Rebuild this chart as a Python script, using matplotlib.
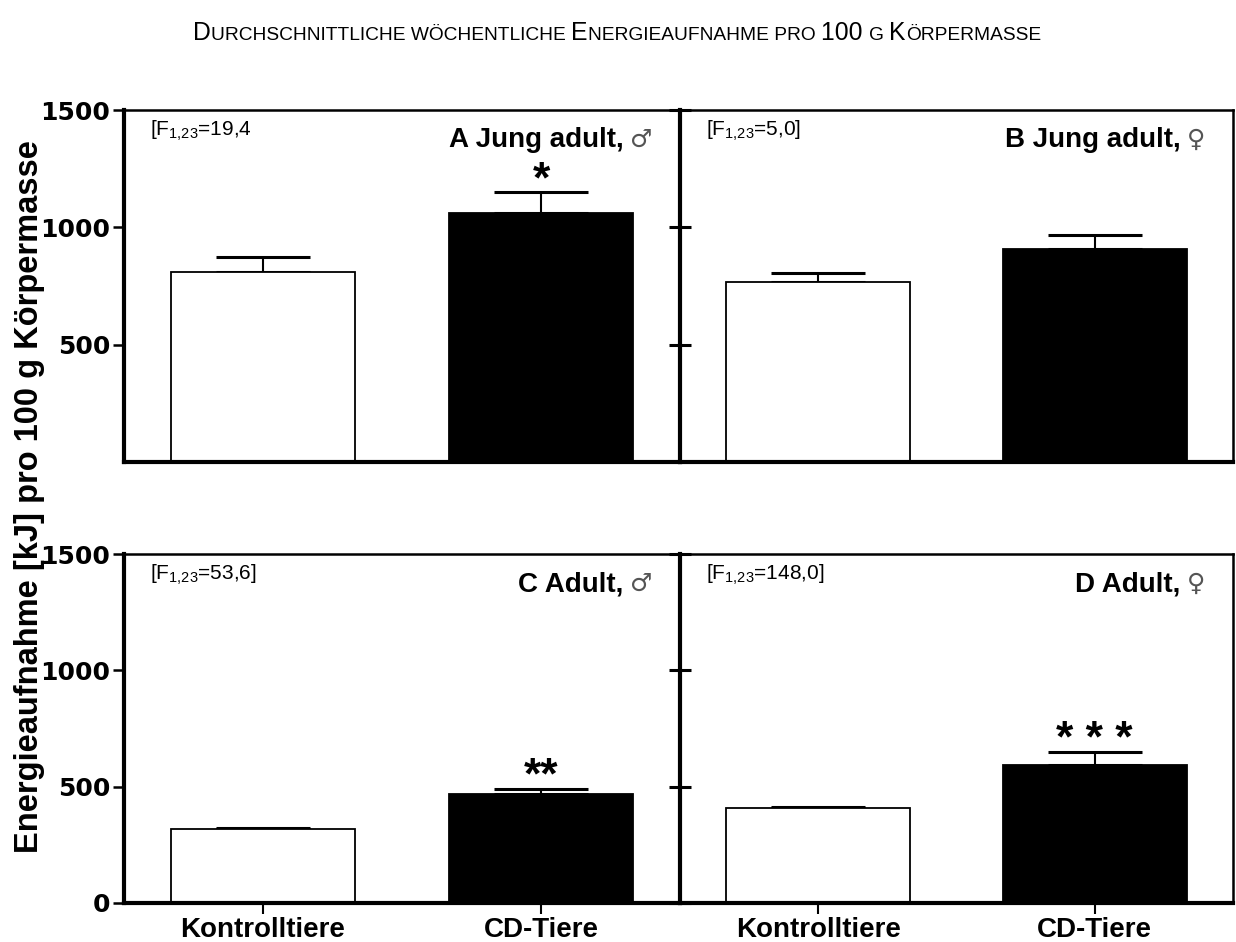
import matplotlib
matplotlib.use("Agg")
import matplotlib.pyplot as plt

plt.rcParams['font.family'] = ['Liberation Sans', 'DejaVu Sans']
plt.rcParams['mathtext.fontset'] = 'custom'
plt.rcParams['mathtext.rm'] = 'Liberation Sans'
plt.rcParams['mathtext.it'] = 'Liberation Sans:italic'
plt.rcParams['mathtext.bf'] = 'Liberation Sans:bold'

# ---- data -------------------------------------------------------------
groups = ["Kontrolltiere", "CD-Tiere"]
bar_colors = ["white", "black"]

panel_titles = ["A Jung adult,", "B Jung adult,", "C Adult,", "D Adult,"]
sex_symbols = ["\u2642", "\u2640", "\u2642", "\u2640"]
f_stats = ["[F$_{1{,}23}$=19,4", "[F$_{1{,}23}$=5,0]",
           "[F$_{1{,}23}$=53,6]", "[F$_{1{,}23}$=148,0]"]
significance = ["*", "", "**", "* * *"]

mean_a = [810, 1061]
sem_a = [65, 89]
mean_b = [768, 906]
sem_b = [39, 63]
mean_c = [318, 470]
sem_c = [4, 22]
mean_d = [408, 595]
sem_d = [3, 55]

y_ticks_top = [500, 1000, 1500]
y_ticks_bottom = [0, 500, 1000, 1500]

title_parts = [("D", True), ("URCHSCHNITTLICHE WÖCHENTLICHE ", False),
               ("E", True), ("NERGIEAUFNAHME PRO ", False),
               ("100 ", True), ("G ", False), ("K", True), ("ÖRPERMASSE", False)]
y_label = "Energieaufnahme [kJ] pro 100 g Körpermasse"

# ---- figure -----------------------------------------------------------
W, H = 1236, 942
fig = plt.figure(figsize=(W / 100, H / 100), dpi=100)


def px_axes(x0, y0, x1, y1):
    return fig.add_axes([x0 / W, 1 - y1 / H, (x1 - x0) / W, (y1 - y0) / H])


ax_a = px_axes(124, 110, 680, 462)
ax_b = px_axes(680, 110, 1233, 462)
ax_c = px_axes(124, 554, 680, 903)
ax_d = px_axes(680, 554, 1233, 903)

axes = [ax_a, ax_b, ax_c, ax_d]
means = [mean_a, mean_b, mean_c, mean_d]
sems = [sem_a, sem_b, sem_c, sem_d]

fig.canvas.draw()
renderer = fig.canvas.get_renderer()

for i, ax in enumerate(axes):
    left_col = i in (0, 2)
    bottom_row = i in (2, 3)
    x = list(range(len(groups)))
    ax.bar(x, means[i], width=0.665, color=bar_colors,
           edgecolor="black", linewidth=1.3, zorder=2)
    ax.errorbar(x, means[i], yerr=[[0] * len(x), sems[i]], fmt="none",
                ecolor="black", elinewidth=1.5, capsize=34, capthick=2.2,
                zorder=1)
    ax.set_xlim(-0.5, 1.5)
    ax.set_ylim(0, 1500)

    for side in ("left", "bottom"):
        ax.spines[side].set_linewidth(3)
    for side in ("top", "right"):
        ax.spines[side].set_linewidth(1.8)
    if left_col:
        ax.spines["right"].set_visible(False)

    ax.set_yticks(y_ticks_bottom if bottom_row else y_ticks_top)
    if left_col:
        ax.tick_params(axis="y", direction="out", length=8, width=1.8,
                       pad=2, labelsize=18)
        for lab in ax.get_yticklabels():
            lab.set_fontfamily("DejaVu Sans")
            lab.set_fontweight("bold")
    else:
        ax.tick_params(axis="y", direction="inout", length=16, width=2.2,
                       labelleft=False)

    if bottom_row:
        ax.set_xticks(x)
        ax.set_xticklabels(groups, fontsize=20, fontweight="bold")
        ax.tick_params(axis="x", direction="out", length=8, width=1.5, pad=2)
    else:
        ax.set_xticks([])

    # F statistic in the upper left corner
    ax.annotate(f_stats[i], xy=(0, 1), xycoords="axes fraction",
                xytext=(26 * 0.72, -21 * 0.72), textcoords="offset points",
                ha="left", va="center", fontsize=15)

    # panel title with sex symbol at the upper right
    sym = ax.annotate(sex_symbols[i], xy=(1, 1), xycoords="axes fraction",
                      xytext=(-28 * 0.72, -30 * 0.72),
                      textcoords="offset points", ha="right", va="center",
                      fontsize=18, family="DejaVu Sans", color="#555555")
    sym_w = sym.get_window_extent(renderer).width
    ax.annotate(panel_titles[i], xy=(1, 1), xycoords="axes fraction",
                xytext=(-(28 + sym_w + 6) * 0.72, -30 * 0.72),
                textcoords="offset points", ha="right", va="center",
                fontsize=20, fontweight="bold")

    # significance stars above the CD bar
    if significance[i]:
        top = means[i][1] + sems[i][1]
        ax.annotate(significance[i], xy=(1, top), xycoords="data",
                    xytext=(0, 0), textcoords="offset points",
                    ha="center", va="baseline", fontsize=32,
                    fontweight="bold")

# shared y axis label
fig.text(30 / W, 1 - 497 / H, y_label, rotation=90, ha="center",
         va="center", fontsize=23.5, fontweight="bold")

# small-caps title built from pieces
big, small = 17.8, 13.8
pieces = []
for txt, is_big in title_parts:
    t = fig.text(0, 0, txt, fontsize=big if is_big else small,
                 ha="left", va="baseline")
    pieces.append(t)
fig.canvas.draw()
widths = [p.get_window_extent(renderer).width for p in pieces]
total = sum(widths)
xpos = 617 - total / 2
for p, w in zip(pieces, widths):
    p.set_position((xpos / W, 1 - 40 / H))
    xpos += w

fig.savefig("out.png", dpi=100)
